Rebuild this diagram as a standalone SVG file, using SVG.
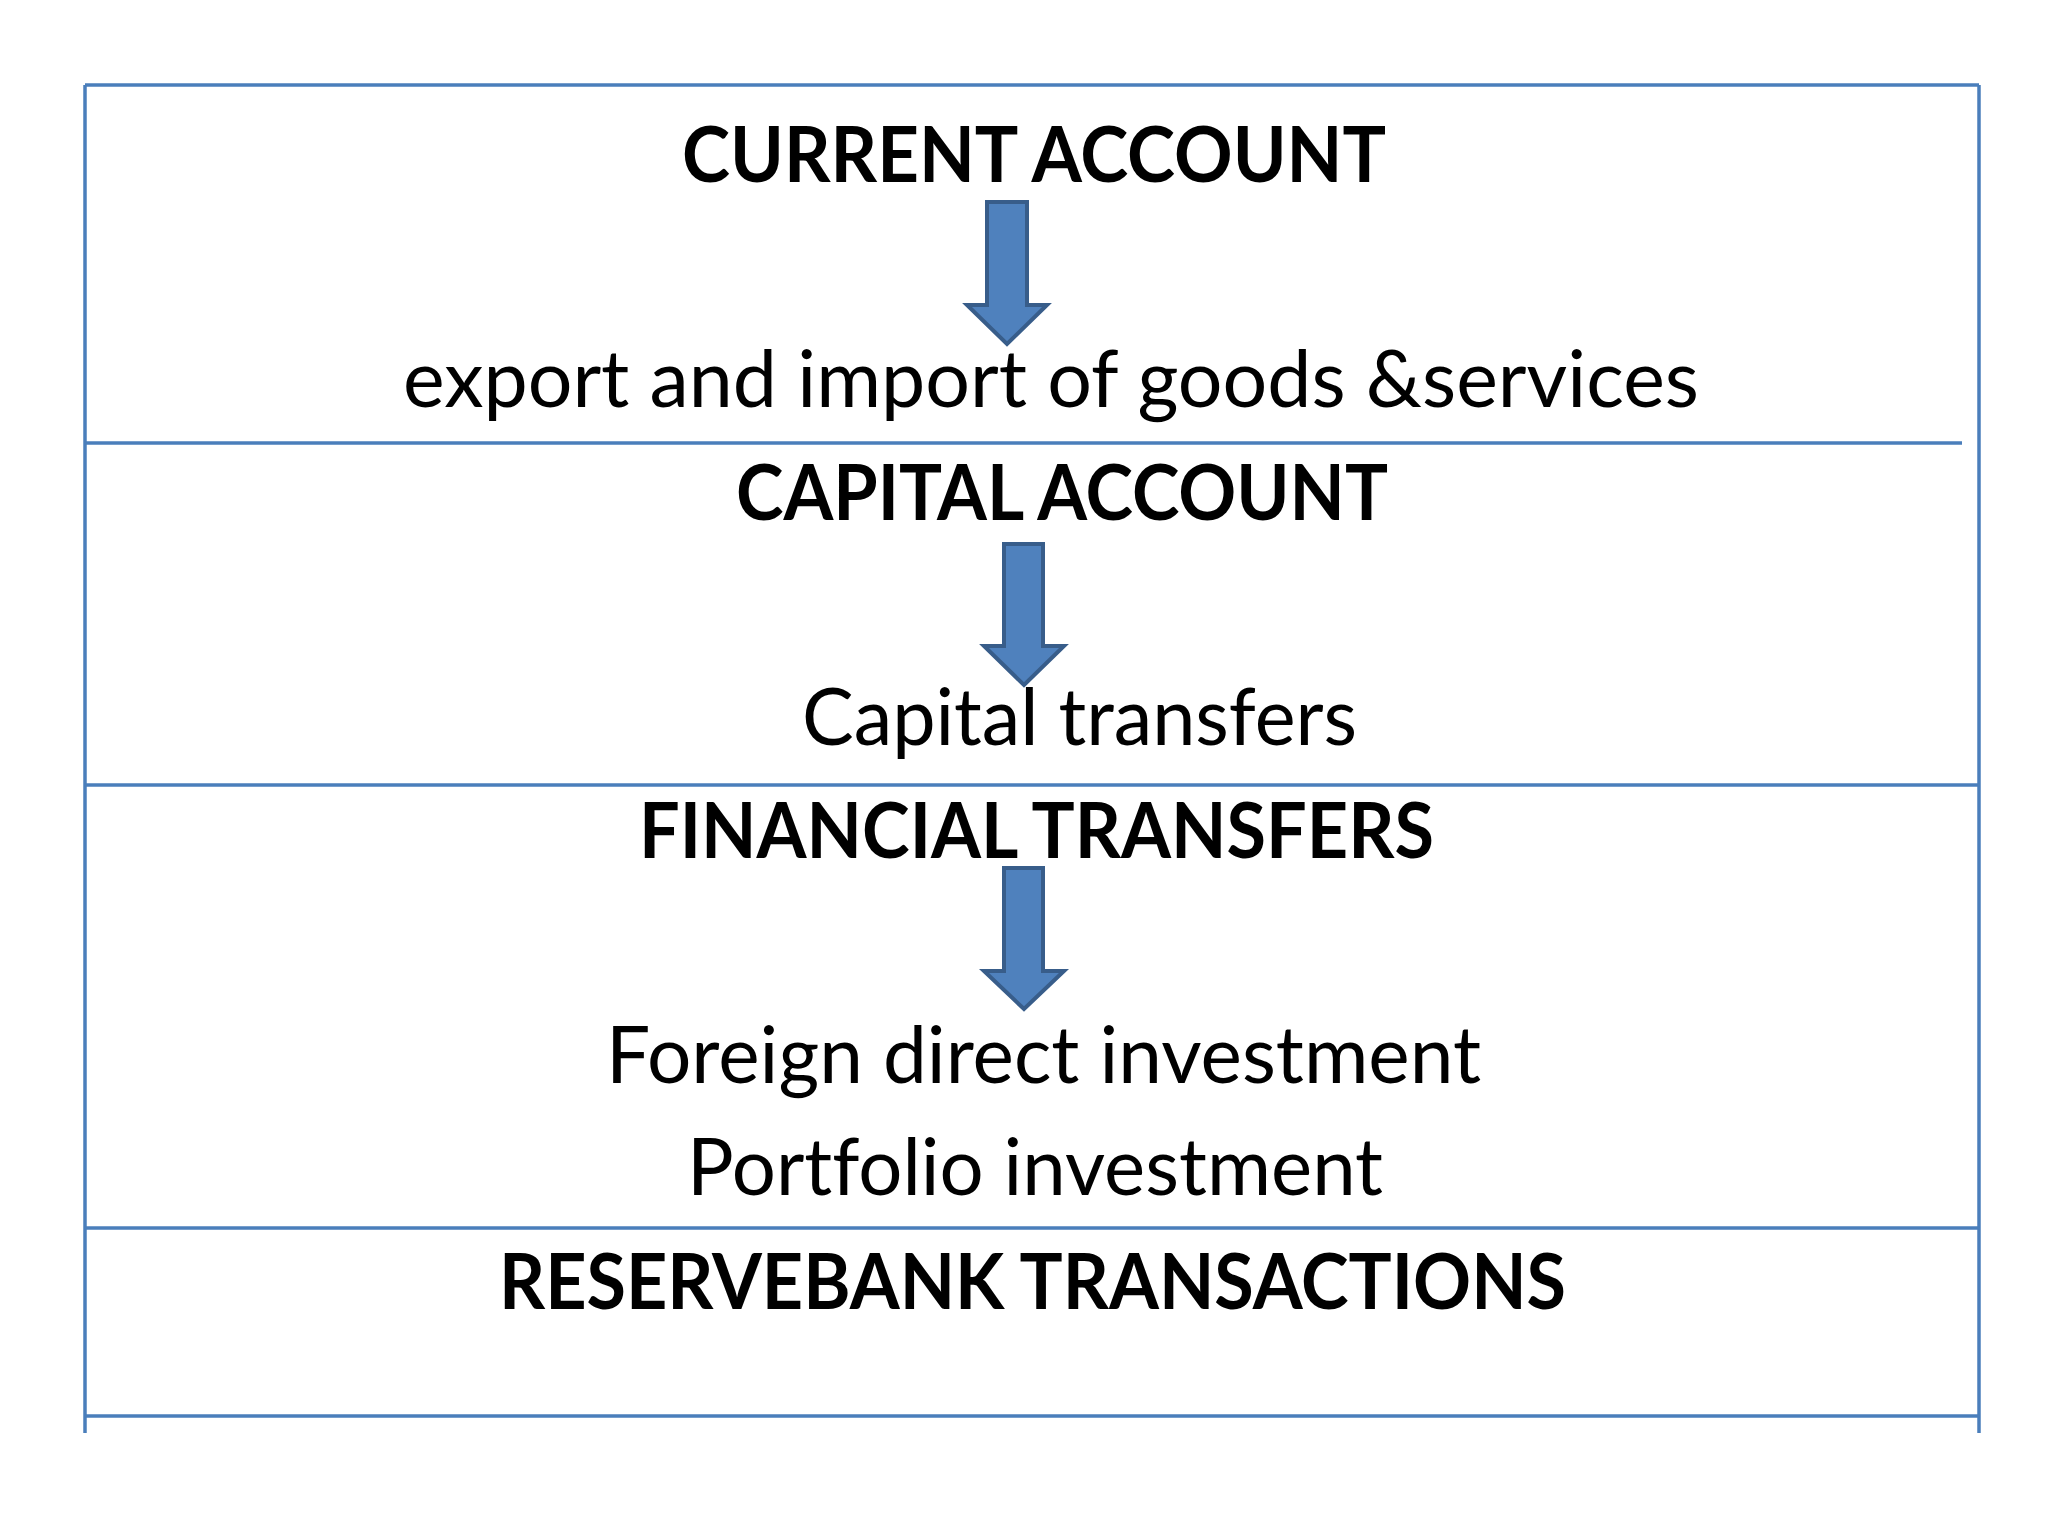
<svg xmlns="http://www.w3.org/2000/svg" width="2048" height="1536" viewBox="0 0 2048 1536">
<defs>
<style>
.frame{stroke:#4a7ebb;stroke-width:3.5;fill:none}
.arrow{fill:#4f81bd;stroke:#385d8a;stroke-width:4;stroke-linejoin:miter}
.h{font-family:Lato,"Open Sans","Liberation Sans",sans-serif;font-weight:bold;font-size:76px;fill:#000;font-variant-ligatures:none}
.t{font-family:Lato,"Open Sans","Liberation Sans",sans-serif;font-weight:normal;font-size:80px;fill:#000;font-variant-ligatures:none}
</style>
</defs>
<rect x="0" y="0" width="2048" height="1536" fill="#ffffff"/>
<g id="frame">
<line class="frame" x1="85" y1="85" x2="85" y2="1433"/>
<line class="frame" x1="1979" y1="85" x2="1979" y2="1433"/>
<line class="frame" x1="85" y1="85" x2="1979" y2="85"/>
<line class="frame" x1="85" y1="443" x2="1962" y2="443"/>
<line class="frame" x1="85" y1="785" x2="1979" y2="785"/>
<line class="frame" x1="85" y1="1228" x2="1979" y2="1228"/>
<line class="frame" x1="85" y1="1416" x2="1979" y2="1416"/>
</g>
<g id="current-account">
<text class="h" x="682" y="182" textLength="704" lengthAdjust="spacingAndGlyphs">CURRENT ACCOUNT</text>
<text class="t" x="403" y="407" textLength="1296" lengthAdjust="spacingAndGlyphs">export and import of goods &amp;services</text>
</g>
<g id="capital-account">
<text class="h" x="736" y="520" textLength="652" lengthAdjust="spacingAndGlyphs">CAPITAL ACCOUNT</text>
<text class="t" x="802" y="745" textLength="555" lengthAdjust="spacingAndGlyphs">Capital transfers</text>
</g>
<g id="financial-transfers">
<text class="h" x="639" y="858" textLength="795" lengthAdjust="spacingAndGlyphs">FINANCIAL TRANSFERS</text>
<text class="t" x="606" y="1083" textLength="875" lengthAdjust="spacingAndGlyphs">Foreign direct investment</text>
<text class="t" x="687" y="1195" textLength="696" lengthAdjust="spacingAndGlyphs">Portfolio investment</text>
</g>
<g id="reservebank-transactions">
<text class="h" x="499" y="1309" textLength="1067" lengthAdjust="spacingAndGlyphs">RESERVEBANK TRANSACTIONS</text>
</g>
<g id="connectors">
<path class="arrow" d="M987,202 L1027,202 L1027,305 L1047,305 L1007,344 L967,305 L987,305 Z"/>
<path class="arrow" d="M1004,544 L1043,544 L1043,646 L1064,646 L1024,685 L984,646 L1004,646 Z"/>
<path class="arrow" d="M1004,868 L1043,868 L1043,971 L1064,971 L1024,1009 L984,971 L1004,971 Z"/>
</g>
</svg>
